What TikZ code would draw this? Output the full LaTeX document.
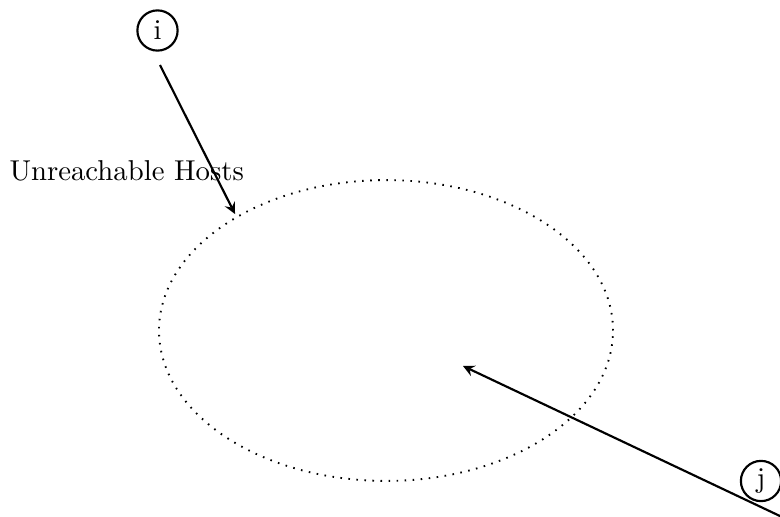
\documentclass[tikz,border=0pt]{standalone}
\usetikzlibrary{arrows,shapes.geometric}
\begin{document}
\begin{tikzpicture}[x=0.348pt,y=-0.348pt,
  hostnode/.style={circle,draw,line width=0.75pt,minimum size=14pt,inner sep=0pt,font=\normalsize},
  link/.style={line width=0.75pt,-stealth},
  region/.style={ellipse,draw,inner sep=0pt,minimum width=158pt,minimum height=104.7pt,dash pattern=on 0.55pt off 2.25pt,line width=0.65pt}]
\useasboundingbox (0,0) rectangle (780,516);
\clip (0,0) rectangle (780,516);
\node[hostnode] (i) at (157.5,30.5) {i};
\node[hostnode] (j) at (761,481) {j};
\node[anchor=base west,inner sep=0pt] (lbl) at (9,180) {Unreachable Hosts};
\node[region] (reg) at (386,330.5) {};
\coordinate (istart) at (160,65);
\coordinate (iend) at (235,214);
\coordinate (jstart) at (800,525.5);
\coordinate (jend) at (463,366);
\draw[link] (istart) -- (iend);
\draw[link] (jstart) -- (jend);
\end{tikzpicture}
\end{document}
